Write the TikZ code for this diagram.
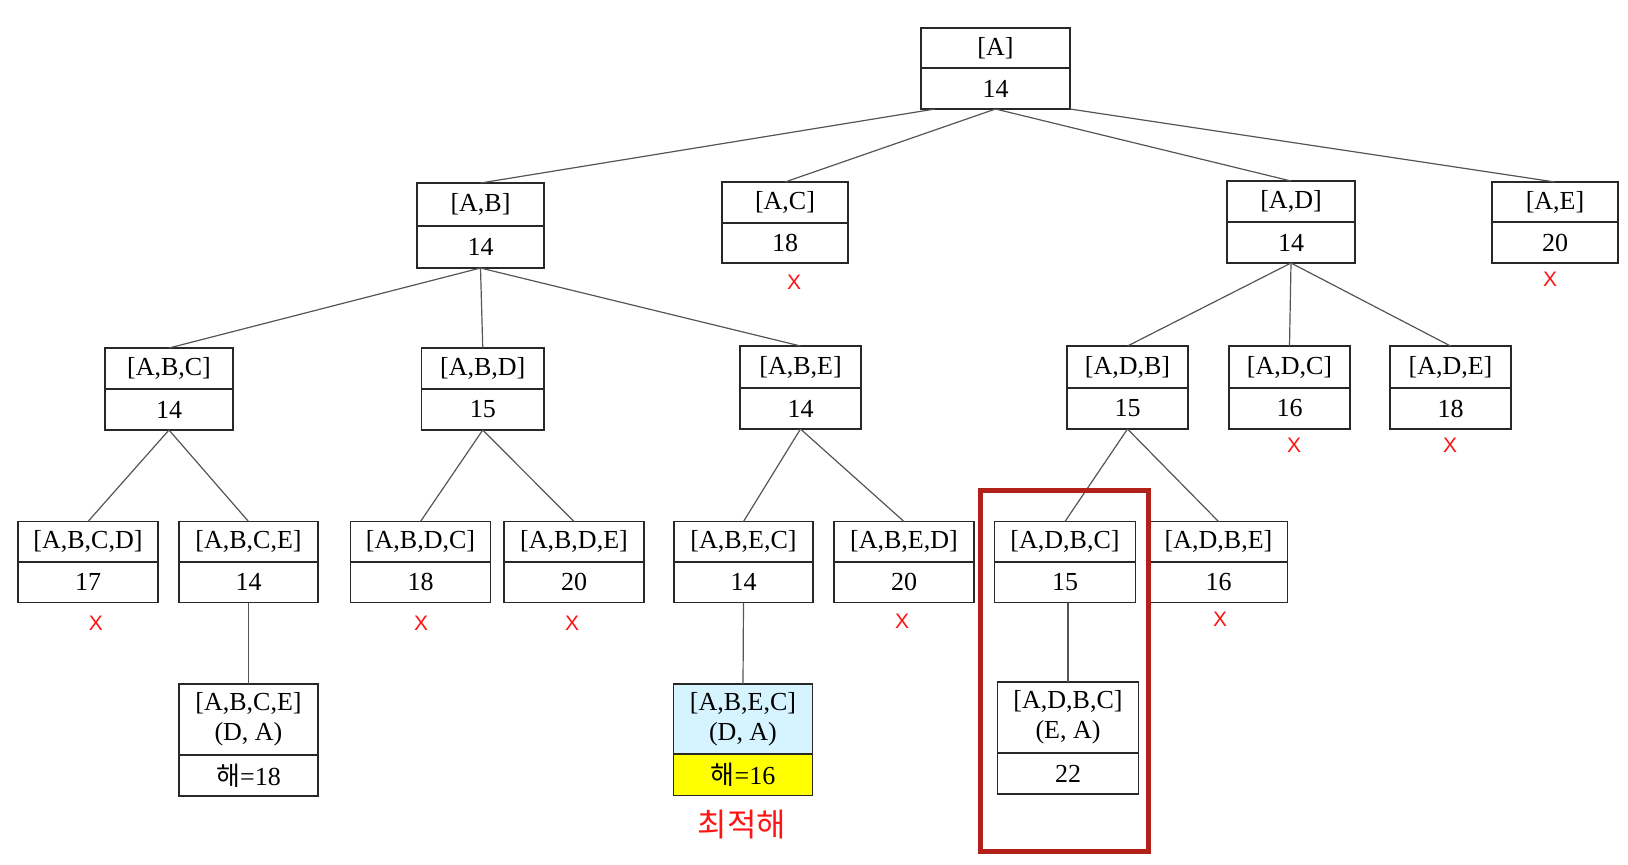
\documentclass[tikz,border=0pt]{standalone}
\usepackage{fontspec}
\setmainfont{Liberation Serif}
\newfontfamily\krfont{Noto Sans CJK KR}
\newfontfamily\xfont{Liberation Sans}
\definecolor{edgegray}{RGB}{85,85,85}
\definecolor{boxline}{RGB}{40,40,40}
\definecolor{bestcyan}{RGB}{214,244,255}
\definecolor{bestyellow}{RGB}{255,255,0}
\definecolor{framered}{RGB}{178,32,26}
\definecolor{markred}{RGB}{255,20,20}
\tikzset{
  part/.style={draw=boxline, line width=0.7pt, inner sep=0pt, outer sep=0pt,
    anchor=north west, align=center, font=\fontsize{13}{15}\selectfont},
  top plain/.style={}, bot plain/.style={}, div plain/.style={line width=1.2pt},
  top leaf/.style={}, bot leaf/.style={}, div leaf/.style={line width=0.7pt},
  top best/.style={fill=bestcyan}, bot best/.style={fill=bestyellow}, div best/.style={line width=0.7pt},
  edge/.style={draw=edgegray, line width=0.6pt},
  xmark/.style={text=markred, font=\xfont\fontsize{10.5}{12}\selectfont, inner sep=0pt},
  bestlabel/.style={text=markred, font=\krfont\fontsize{16}{18}\selectfont, inner sep=0pt},
  frame/.style={draw=framered, line width=2.5pt}
}
% name, x, y, width, h1, h2, top text, bottom text, kind
\newcommand{\tbox}[9]{%
  \node[part, top #9, minimum width=#4*0.5pt, minimum height=#5*0.5pt] (#1-t) at (#2,#3) {#7};
  \node[part, bot #9, minimum width=#4*0.5pt, minimum height=#6*0.5pt] (#1-b) at (#1-t.south west) {#8};
  \draw[boxline, div #9] (#1-t.south west) -- (#1-t.south east);
}
\begin{document}
\begin{tikzpicture}[x=0.5pt, y=-0.5pt]
\useasboundingbox (0,0) rectangle (1628,864);
% level 0
\tbox{A}{921}{28}{149}{40}{41}{[A]}{14}{plain}
% level 1
\tbox{AB}{417}{183}{127}{43}{42}{[A,B]}{14}{plain}
\tbox{AC}{722}{182}{126}{41}{40}{[A,C]}{18}{plain}
\tbox{AD}{1227}{181}{128}{41}{41}{[A,D]}{14}{plain}
\tbox{AE}{1492}{182}{126}{40}{41}{[A,E]}{20}{plain}
% level 2
\tbox{ABC}{105}{348}{128}{41}{41}{[A,B,C]}{14}{plain}
\tbox{ABD}{421.5}{348}{122.5}{41}{41}{[A,B,D]}{15}{plain}
\tbox{ABE}{740}{346}{121}{42}{41}{[A,B,E]}{14}{plain}
\tbox{ADB}{1067}{346}{121}{42}{41}{[A,D,B]}{15}{plain}
\tbox{ADC}{1229}{346}{121}{42}{41}{[A,D,C]}{16}{plain}
\tbox{ADE}{1390}{346}{121}{42}{41}{[A,D,E]}{18}{plain}
% level 3
\tbox{ABCD}{18}{521.5}{140}{40.5}{40.5}{[A,B,C,D]}{17}{plain}
\tbox{ABCE}{179}{521.5}{139}{40.5}{40.5}{[A,B,C,E]}{14}{plain}
\tbox{ABDC}{350.5}{521.5}{140}{40.5}{40.5}{[A,B,D,C]}{18}{plain}
\tbox{ABDE}{504}{521.5}{140}{40.5}{40.5}{[A,B,D,E]}{20}{plain}
\tbox{ABEC}{674}{521.5}{139}{40.5}{40.5}{[A,B,E,C]}{14}{plain}
\tbox{ABED}{834}{521.5}{140}{40.5}{40.5}{[A,B,E,D]}{20}{plain}
\tbox{ADBC}{994.5}{521.5}{141}{40.5}{40.5}{[A,D,B,C]}{15}{plain}
\tbox{ADBE}{1149.5}{521.5}{138}{40.5}{40.5}{[A,D,B,E]}{16}{plain}
% level 4
\tbox{ABCEDA}{179}{684}{139}{71}{41}{[A,B,C,E]\\(D, A)}{{\krfont 해}=18}{leaf}
\tbox{ABECDA}{673.5}{684}{139}{70}{41.5}{[A,B,E,C]\\(D, A)}{{\krfont 해}=16}{best}
\tbox{ADBCEA}{997.5}{682}{141}{71}{41}{[A,D,B,C]\\(E, A)}{22}{leaf}
% edges
\draw[edge] ([xshift=7pt]A-b.south west) -- (AB-t.north);
\draw[edge] (A-b.south) -- (AC-t.north);
\draw[edge] (A-b.south) -- (AD-t.north);
\draw[edge] (A-b.south east) -- (AE-t.north);
\draw[edge] (AB-b.south) -- (ABC-t.north);
\draw[edge] (AB-b.south) -- (ABD-t.north);
\draw[edge] (AB-b.south) -- (ABE-t.north);
\draw[edge] (AD-b.south) -- (ADB-t.north);
\draw[edge] (AD-b.south) -- (ADC-t.north);
\draw[edge] (AD-b.south) -- (ADE-t.north);
\draw[edge] (ABC-b.south) -- (ABCD-t.north);
\draw[edge] (ABC-b.south) -- (ABCE-t.north);
\draw[edge] (ABD-b.south) -- (ABDC-t.north);
\draw[edge] (ABD-b.south) -- (ABDE-t.north);
\draw[edge] (ABE-b.south) -- (ABEC-t.north);
\draw[edge] (ABE-b.south) -- (ABED-t.north);
\draw[edge] (ADB-b.south) -- (ADBC-t.north);
\draw[edge] (ADB-b.south) -- (ADBE-t.north);
\draw[edge] (ABCE-b.south) -- (ABCEDA-t.north);
\draw[edge] (ABEC-b.south) -- (ABECDA-t.north);
\draw[edge] (ADBCEA-t.north) -- (ADBCEA-t.north |- ADBC-b.south);
% pruned marks
\node[xmark] (xAC) at (794,282) {X};
\node[xmark] (xAE) at (1550,279) {X};
\node[xmark] (xADC) at (1294,445) {X};
\node[xmark] (xADE) at (1450,445) {X};
\node[xmark] (xABCD) at (96,623) {X};
\node[xmark] (xABDC) at (421,623) {X};
\node[xmark] (xABDE) at (572,623) {X};
\node[xmark] (xABED) at (902,621) {X};
\node[xmark] (xADBE) at (1220,619) {X};
% optimum label
\node[bestlabel] (best) at (742,825) {최적해};
% highlight frame
\draw[frame] (980.7,490.7) rectangle (1148,851);
\end{tikzpicture}
\end{document}
